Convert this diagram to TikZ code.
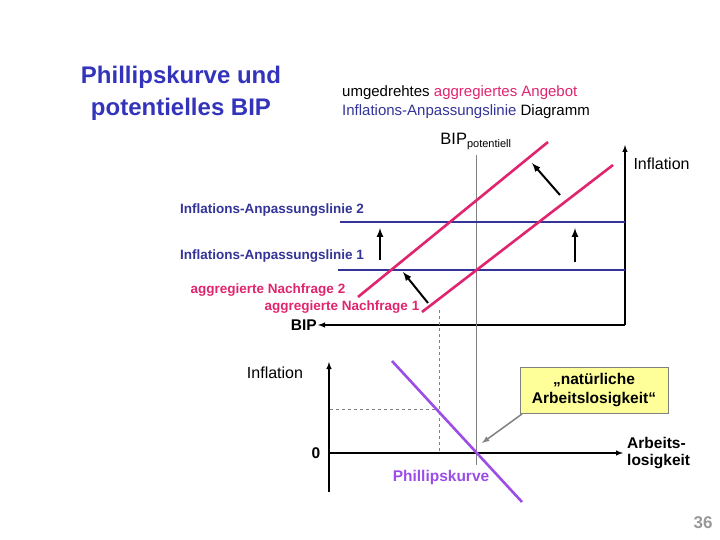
\documentclass[tikz,border=0pt]{standalone}
\usepackage{fontspec}
\setmainfont{Liberation Sans}
\definecolor{tblue}{HTML}{3333BB}
\definecolor{lblue}{HTML}{333399}
\definecolor{pink}{HTML}{E0246E}
\definecolor{purp}{HTML}{9B4DE6}
\definecolor{ybox}{HTML}{FFFF99}
\begin{document}
\begin{tikzpicture}[x=1pt,y=-1pt,
  lbl/.style={font=\fontsize{13.5}{15}\selectfont\bfseries},
  big/.style={font=\fontsize{15.5}{17}\selectfont\bfseries},
  axis/.style={line width=1.4pt,-latex},
  movearrow/.style={line width=2pt,-latex},
  ia/.style={lblue,line width=2.2pt},
  an/.style={pink,line width=2.6pt}]
\useasboundingbox (0,0) rectangle (720,540);
\node[align=center,text=tblue,font=\fontsize{24}{32}\selectfont\bfseries] (title) at (181,93) {Phillipskurve und\\potentielles BIP};
\node[anchor=west,align=left,inner sep=0pt,font=\fontsize{15}{19}\selectfont] (sub) at (342,102) {umgedrehtes \textcolor{pink}{aggregiertes Angebot}\\\textcolor{lblue}{Inflations-Anpassungslinie} Diagramm};
% top diagram
\coordinate (o1) at (625,325);
\coordinate (ytop) at (625,145);
\coordinate (xl) at (318,325);
\draw[axis] (o1) -- (ytop);
\draw[axis] (o1) -- (xl);
\node[big,anchor=east,inner sep=1pt] (bip) at (xl) {BIP};
\node[anchor=west,font=\fontsize{16}{18}\selectfont] (inf1) at (630,164) {Inflation};
\draw[gray,line width=1pt] (476,155) coordinate (g1) -- (476,465) coordinate (g2);
\node[font=\fontsize{16.5}{18}\selectfont,anchor=south] (bpot) at (476,153) {BIP\textsubscript{\fontsize{11}{12}\selectfont potentiell}};
\draw[gray,dashed] (439,310) coordinate (d1) -- (439,453) coordinate (d2);
\draw[gray,dashed] (330,409) coordinate (h1) -- (439,409) coordinate (h2);
\draw[ia] (340,222) coordinate (a1) -- (625,222) coordinate (a2);
\draw[ia] (338,270) coordinate (b1) -- (625,270) coordinate (b2);
\node[lbl,text=lblue] (l2) at (272,210) {Inflations-Anpassungslinie 2};
\node[lbl,text=lblue] (l1) at (272,256) {Inflations-Anpassungslinie 1};
\draw[an] (358,297) coordinate (c1) -- (548,142) coordinate (c2);
\draw[an] (422,312) coordinate (e1) -- (613,165) coordinate (e2);
\node[lbl,text=pink] (n2) at (268,290) {aggregierte Nachfrage 2};
\node[lbl,text=pink] (n1) at (342,307) {aggregierte Nachfrage 1};
\draw[movearrow] (380,260) coordinate (s1) -- (380,228) coordinate (s2);
\draw[movearrow] (575,262) coordinate (s3) -- (575,228) coordinate (s4);
\draw[movearrow] (428,303) coordinate (s5) -- (403,272) coordinate (s6);
\draw[movearrow] (560,195) coordinate (s7) -- (532,163) coordinate (s8);
% bottom diagram
\coordinate (o2) at (329,453);
\draw[axis] (329,492) coordinate (v0) -- (329,362) coordinate (v1);
\draw[axis] (o2) -- (623,453) coordinate (x2);
\node[font=\fontsize{16}{18}\selectfont] (inf2) at (275,373) {Inflation};
\node[big] (zero) at (316,453) {0};
\node[big,align=left,anchor=west,inner sep=1pt] (al) at (626,453) {Arbeits-\\losigkeit};
\draw[purp,line width=2.6pt] (392,361) coordinate (p1) -- (522,502) coordinate (p2);
\node[big,text=purp] (pk) at (441,477) {Phillipskurve};
\node[draw=gray,fill=ybox,minimum width=148pt,minimum height=46pt,align=center,font=\fontsize{15.5}{19}\selectfont\bfseries] (box) at (594,390) {„natürliche\\Arbeitslosigkeit“};
\draw[gray,line width=1.5pt,-latex] (522,414) coordinate (q1) -- (482,443) coordinate (q2);
\node[text=gray!80,font=\fontsize{17}{19}\selectfont\bfseries] (pg) at (703,523) {36};
\end{tikzpicture}
\end{document}
